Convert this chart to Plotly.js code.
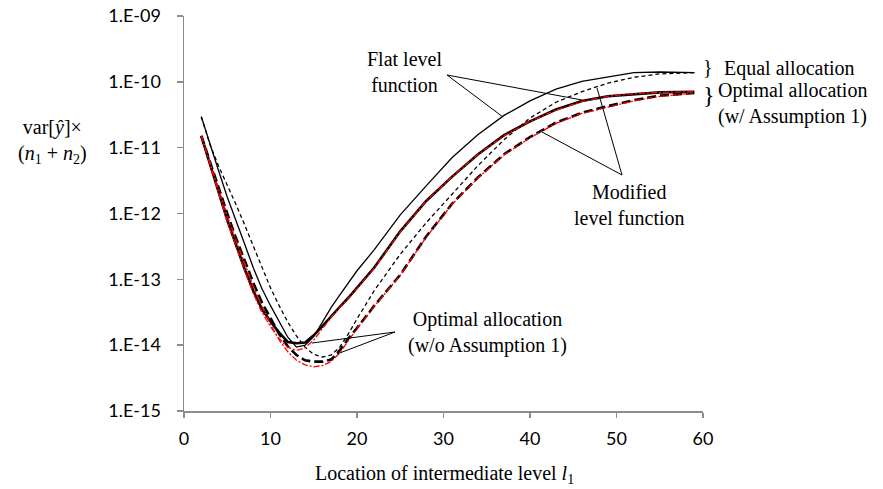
<!DOCTYPE html>
<html>
<head>
<meta charset="utf-8">
<script src="https://cdn.plot.ly/plotly-3.0.1.min.js"></script>
<style>html,body{margin:0;padding:0;background:#fff;}#chart{width:883px;height:489px;}</style>
</head>
<body>
<div id="chart"></div>
<script>
// Location of intermediate level l1
const levels = [2,3,4,5,6,7,8,9,10,11,12,13,14,15,16,17,18,19,20,22,25,28,31,34,37,40,43,46,49,52,55,59];

// Equal allocation, flat level function (thin solid)
const equalFlat = [2.95e-11,1.12e-11,4.47e-12,1.78e-12,7.59e-13,3.47e-13,1.51e-13,7.24e-14,3.98e-14,2.24e-14,1.32e-14,9.33e-15,1.00e-14,1.35e-14,2.29e-14,3.72e-14,5.75e-14,8.91e-14,1.35e-13,2.82e-13,9.55e-13,2.63e-12,7.08e-12,1.58e-11,3.09e-11,5.13e-11,7.76e-11,1.02e-10,1.20e-10,1.38e-10,1.41e-10,1.38e-10];

// Equal allocation, modified level function (thin dashed)
const equalModified = [2.95e-11,1.12e-11,5.25e-12,2.75e-12,1.38e-12,6.76e-13,3.16e-13,1.51e-13,7.41e-14,3.98e-14,2.24e-14,1.38e-14,9.33e-15,7.24e-15,6.61e-15,7.08e-15,9.33e-15,1.48e-14,2.51e-14,6.76e-14,2.40e-13,7.24e-13,2.00e-12,5.37e-12,1.32e-11,2.82e-11,4.90e-11,7.08e-11,9.55e-11,1.17e-10,1.32e-10,1.38e-10];

// Optimal allocation (w/ Assumption 1), flat level function (thick solid)
const optFlat = [1.51e-11,5.62e-12,2.09e-12,7.94e-13,3.39e-13,1.45e-13,6.76e-14,3.55e-14,2.29e-14,1.55e-14,1.12e-14,1.07e-14,1.10e-14,1.41e-14,1.95e-14,2.75e-14,3.80e-14,5.25e-14,7.41e-14,1.51e-13,5.37e-13,1.55e-12,3.63e-12,7.94e-12,1.55e-11,2.51e-11,3.80e-11,5.13e-11,6.03e-11,6.46e-11,6.92e-11,7.08e-11];

// Optimal allocation (w/ Assumption 1), modified level function (thick dashed)
const optModified = [1.51e-11,6.03e-12,2.40e-12,1.00e-12,4.27e-13,1.91e-13,8.91e-14,4.47e-14,2.51e-14,1.48e-14,9.55e-15,7.08e-15,5.89e-15,5.62e-15,5.62e-15,6.03e-15,8.32e-15,1.26e-14,1.82e-14,3.98e-14,1.17e-13,4.47e-13,1.41e-12,3.55e-12,7.94e-12,1.45e-11,2.40e-11,3.39e-11,4.27e-11,5.25e-11,6.17e-11,6.76e-11];

// Optimal allocation (w/o Assumption 1), flat level function (red dash-dot)
const optNoAFlat = [1.51e-11,5.50e-12,2.00e-12,7.59e-13,3.16e-13,1.35e-13,6.17e-14,3.16e-14,1.91e-14,1.26e-14,9.33e-15,8.32e-15,9.12e-15,1.20e-14,1.78e-14,2.63e-14,3.72e-14,5.13e-14,7.24e-14,1.48e-13,5.25e-13,1.55e-12,3.63e-12,7.94e-12,1.51e-11,2.51e-11,3.72e-11,5.01e-11,6.03e-11,6.61e-11,6.92e-11,7.08e-11];

// Optimal allocation (w/o Assumption 1), modified level function (red dash-dot)
const optNoAModified = [1.51e-11,5.89e-12,2.29e-12,9.33e-13,3.98e-13,1.74e-13,7.94e-14,3.89e-14,2.09e-14,1.20e-14,7.94e-15,5.89e-15,5.01e-15,4.68e-15,4.90e-15,5.62e-15,7.59e-15,1.17e-14,1.78e-14,3.89e-14,1.15e-13,4.37e-13,1.38e-12,3.47e-12,7.76e-12,1.41e-11,2.34e-11,3.31e-11,4.17e-11,5.13e-11,6.03e-11,6.76e-11];

// Tick labels
const yTickVals = [1e-15,1e-14,1e-13,1e-12,1e-11,1e-10,1e-9];
const yTickText = ["1.E-15","1.E-14","1.E-13","1.E-12","1.E-11","1.E-10","1.E-09"];
const xTickVals = [0,10,20,30,40,50,60];

const L=184, R=703, T=16, B=411, W=R-L, H=B-T;
const px = x => (x-L)/W;
const py = y => (B-y)/H;

const serif = "Liberation Serif, Times New Roman, serif";
const sans = "Lato, Carlito, Calibri, sans-serif";

const traces = [
  {x: levels, y: equalFlat, mode:'lines', line:{color:'#000', width:1.3}},
  {x: levels, y: equalModified, mode:'lines', line:{color:'#000', width:1.3, dash:'4px,3px'}},
  {x: levels, y: optFlat, mode:'lines', line:{color:'#000', width:2.6}},
  {x: levels, y: optModified, mode:'lines', line:{color:'#000', width:2.6, dash:'9px,4px'}},
  {x: levels, y: optNoAFlat, mode:'lines', line:{color:'#ff0000', width:1.3, dash:'6px,2px,2px,2px'}},
  {x: levels, y: optNoAModified, mode:'lines', line:{color:'#ff0000', width:1.3, dash:'6px,2px,2px,2px'}}
];

function seg(x0,y0,x1,y1){
  return {type:'line', xref:'paper', yref:'paper', x0:px(x0), y0:py(y0), x1:px(x1), y1:py(y1), line:{color:'#000', width:1}};
}
const shapes = [
  seg(447,75,503,117), seg(447,75,582,100),
  seg(622,175,597,88), seg(622,175,542,132),
  seg(395,332,312,343), seg(395,332,337,354)
];

function ann(text,x,y,opts){
  return Object.assign({text:text, xref:'paper', yref:'paper', x:px(x), y:py(y), showarrow:false,
    font:{family:serif, size:20, color:'#000'}, xanchor:'center', yanchor:'middle'}, opts||{});
}
const annotations = [
  ann("Flat level<br>function", 404, 72),
  ann("Modified<br>level function", 629, 205),
  ann("Optimal allocation<br>(w/o Assumption 1)", 487, 332),
  ann("}", 701, 67, {xanchor:'left', font:{family:serif, size:20, color:'#000'}}),
  ann("Equal allocation", 722, 68, {xanchor:'left'}),
  ann("}", 701, 95, {xanchor:'left', font:{family:serif, size:24, color:'#000'}}),
  ann("Optimal allocation<br>(w/ Assumption 1)", 716, 104, {xanchor:'left', align:'left'}),
  ann("var[<i>ŷ</i>]×<br>(<i>n</i><sub>1</sub> + <i>n</i><sub>2</sub>)", 52, 141),
  ann("Location of intermediate level <i>l</i><sub>1</sub>", 444, 474)
];

const layout = {
  width:883, height:489,
  margin:{l:L, r:883-R, t:T, b:489-B},
  paper_bgcolor:'#fff', plot_bgcolor:'#fff',
  showlegend:false,
  xaxis:{range:[0,60], tickvals:xTickVals, showgrid:false, zeroline:false,
    showline:true, linecolor:'#8c8c8c', linewidth:1.5, ticks:'outside', ticklen:5, tickcolor:'#8c8c8c', tickwidth:1.5,
    tickfont:{family:sans, size:18, color:'#000'}, ticklabelstandoff:6},
  yaxis:{type:'log', range:[-15,-9], tickvals:yTickVals, ticktext:yTickText, showgrid:false, zeroline:false,
    showline:true, linecolor:'#8c8c8c', linewidth:1.5, ticks:'outside', ticklen:6, tickcolor:'#8c8c8c', tickwidth:1.5,
    tickfont:{family:sans, size:18, color:'#000'}, ticklabelstandoff:12},
  shapes:shapes,
  annotations:annotations
};

Plotly.newPlot('chart', traces, layout, {displayModeBar:false, staticPlot:true});
</script>
</body>
</html>
